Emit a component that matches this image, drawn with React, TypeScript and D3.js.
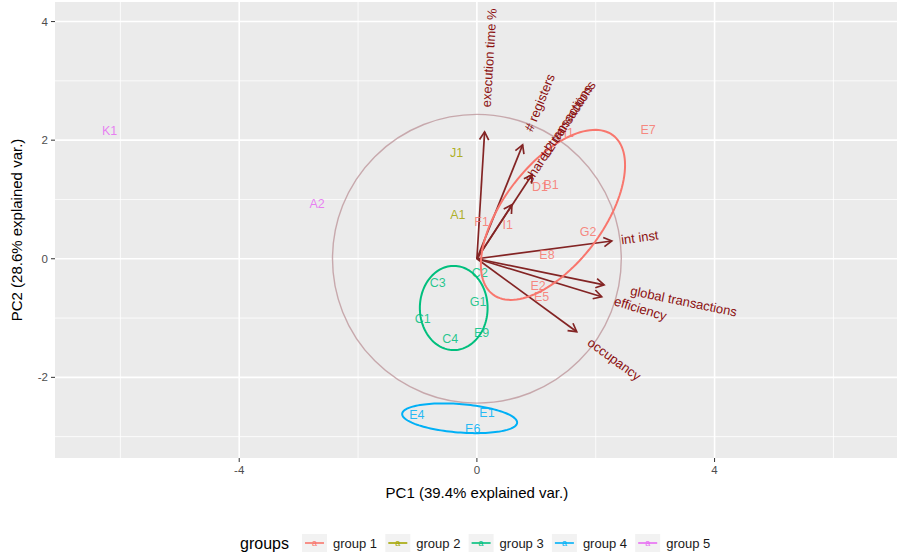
import React, { useRef, useEffect } from 'react';
import * as d3 from 'd3';

// groups and their ggplot hue colours
const groupNames = ['group 1', 'group 2', 'group 3', 'group 4', 'group 5'];
const groupColors = ['#F8766D', '#A3A500', '#00BF7D', '#00B0F6', '#E76BF3'];

// observation scores (PC1, PC2) and their group index
const obsLabels = ['E7', 'H1', 'D1', 'B1', 'F1', 'I1', 'G2', 'E8', 'E2', 'E5',
  'J1', 'A1',
  'C2', 'C3', 'G1', 'C1', 'C4', 'E9',
  'E4', 'E1', 'E6',
  'K1', 'A2'];
const obsPC1 = [2.88, 1.50, 1.06, 1.25, 0.08, 0.52, 1.87, 1.18, 1.03, 1.09,
  -0.34, -0.32,
  0.05, -0.66, 0.02, -0.91, -0.45, 0.08,
  -1.01, 0.17, -0.07,
  -6.18, -2.69];
const obsPC2 = [2.18, 2.12, 1.21, 1.25, 0.62, 0.57, 0.46, 0.07, -0.45, -0.64,
  1.79, 0.74,
  -0.24, -0.40, -0.73, -1.01, -1.35, -1.25,
  -2.63, -2.60, -2.87,
  2.16, 0.93];
const obsGroup = [0, 0, 0, 0, 0, 0, 0, 0, 0, 0,
  1, 1,
  2, 2, 2, 2, 2, 2,
  3, 3, 3,
  4, 4];

// variable loadings (arrows)
const varNames = ['execution time %', '# registers', 'L2 transactions', 'shared transactions',
  'int inst', 'global transactions', 'efficiency', 'occupancy'];
const varPC1 = [0.13, 0.77, 0.93, 0.59, 2.27, 2.14, 2.10, 1.68];
const varPC2 = [2.14, 1.92, 1.42, 0.91, 0.30, -0.44, -0.64, -1.23];

// normal ellipses per group: centre, semi axes, rotation (deg)
const ellGroup = [0, 2, 3];
const ellCX = [1.28, -0.39, -0.29];
const ellCY = [0.74, -0.83, -2.69];
const ellRX = [1.68, 0.57, 0.97];
const ellRY = [0.84, 0.71, 0.24];
const ellAngle = [53, 0, -4.5];

const circleRadius = 2.43;

const xMajor = [-4, 0, 4];
const xMinor = [-6, -2, 2, 6];
const yMajor = [-2, 0, 2, 4];
const yMinor = [-3, -1, 1, 3];

const FONT = '"Liberation Sans", Arial, Helvetica, sans-serif';

const App = () => {
  const svgRef = useRef(null);

  useEffect(() => {
    if (!svgRef.current) return;
    const W = 903;
    const H = 557;
    const panel = { left: 55, right: 897, top: 2, bottom: 458 };

    d3.select(svgRef.current).selectAll('*').remove();
    const svg = d3.select(svgRef.current)
      .attr('width', W)
      .attr('height', H)
      .style('font-family', FONT);

    const x = d3.scaleLinear().domain([-7.1, 7.07]).range([panel.left, panel.right]);
    const y = d3.scaleLinear().domain([-3.36, 4.33]).range([panel.bottom, panel.top]);

    // panel background
    svg.append('rect')
      .attr('x', panel.left).attr('y', panel.top)
      .attr('width', panel.right - panel.left)
      .attr('height', panel.bottom - panel.top)
      .attr('fill', '#EBEBEB');

    // grid
    const grid = svg.append('g');
    xMinor.forEach(v => grid.append('line')
      .attr('x1', x(v)).attr('x2', x(v)).attr('y1', panel.top).attr('y2', panel.bottom)
      .attr('stroke', '#fff').attr('stroke-width', 0.8));
    yMinor.forEach(v => grid.append('line')
      .attr('y1', y(v)).attr('y2', y(v)).attr('x1', panel.left).attr('x2', panel.right)
      .attr('stroke', '#fff').attr('stroke-width', 0.8));
    xMajor.forEach(v => grid.append('line')
      .attr('x1', x(v)).attr('x2', x(v)).attr('y1', panel.top).attr('y2', panel.bottom)
      .attr('stroke', '#fff').attr('stroke-width', 1.6));
    yMajor.forEach(v => grid.append('line')
      .attr('y1', y(v)).attr('y2', y(v)).attr('x1', panel.left).attr('x2', panel.right)
      .attr('stroke', '#fff').attr('stroke-width', 1.6));

    // axes ticks + labels
    xMajor.forEach(v => {
      svg.append('line')
        .attr('x1', x(v)).attr('x2', x(v)).attr('y1', panel.bottom).attr('y2', panel.bottom + 4)
        .attr('stroke', '#333').attr('stroke-width', 1);
      svg.append('text')
        .attr('x', x(v)).attr('y', panel.bottom + 16)
        .attr('text-anchor', 'middle')
        .attr('fill', '#4D4D4D').style('font-size', '11.5px')
        .text(v);
    });
    yMajor.forEach(v => {
      svg.append('line')
        .attr('x1', panel.left - 4).attr('x2', panel.left).attr('y1', y(v)).attr('y2', y(v))
        .attr('stroke', '#333').attr('stroke-width', 1);
      svg.append('text')
        .attr('x', panel.left - 7).attr('y', y(v)).attr('dy', '0.35em')
        .attr('text-anchor', 'end')
        .attr('fill', '#4D4D4D').style('font-size', '11.5px')
        .text(v);
    });

    svg.append('text')
      .attr('x', x(0)).attr('y', 498)
      .attr('text-anchor', 'middle')
      .style('font-size', '15px')
      .text('PC1 (39.4% explained var.)');
    svg.append('text')
      .attr('transform', `translate(22,${(panel.top + panel.bottom) / 2}) rotate(-90)`)
      .attr('text-anchor', 'middle')
      .style('font-size', '15px')
      .text('PC2 (28.6% explained var.)');

    const plot = svg.append('g');

    // correlation circle
    plot.append('circle')
      .attr('cx', x(0)).attr('cy', y(0))
      .attr('r', x(circleRadius) - x(0))
      .attr('fill', 'none')
      .attr('stroke', '#B88C92')
      .attr('stroke-opacity', 0.7)
      .attr('stroke-width', 1.4);

    // arrows
    svg.append('defs').append('marker')
      .attr('id', 'arr')
      .attr('viewBox', '-10 -6 12 12')
      .attr('refX', 0).attr('refY', 0)
      .attr('markerWidth', 12).attr('markerHeight', 12)
      .attr('markerUnits', 'userSpaceOnUse')
      .attr('orient', 'auto')
      .append('path')
      .attr('d', 'M-8,-4.6L0,0L-8,4.6')
      .attr('fill', 'none')
      .attr('stroke', '#832424')
      .attr('stroke-width', 1.7);

    varNames.forEach((n, i) => {
      plot.append('line')
        .attr('x1', x(0)).attr('y1', y(0))
        .attr('x2', x(varPC1[i])).attr('y2', y(varPC2[i]))
        .attr('stroke', '#832424')
        .attr('stroke-width', 1.7)
        .attr('marker-end', 'url(#arr)');
    });

    // observation labels
    obsLabels.forEach((lab, i) => {
      plot.append('text')
        .attr('x', x(obsPC1[i])).attr('y', y(obsPC2[i])).attr('dy', '0.35em')
        .attr('text-anchor', 'middle')
        .attr('fill', groupColors[obsGroup[i]])
        .attr('fill-opacity', 0.85)
        .style('font-size', '12.5px')
        .text(lab);
    });

    // ellipses
    const line = d3.line().x(d => x(d[0])).y(d => y(d[1]));
    ellGroup.forEach((g, i) => {
      const th = ellAngle[i] * Math.PI / 180;
      const pts = d3.range(0, 2 * Math.PI + 0.05, 0.05).map(t => [
        ellCX[i] + ellRX[i] * Math.cos(t) * Math.cos(th) - ellRY[i] * Math.sin(t) * Math.sin(th),
        ellCY[i] + ellRX[i] * Math.cos(t) * Math.sin(th) + ellRY[i] * Math.sin(t) * Math.cos(th)
      ]);
      plot.append('path')
        .attr('d', line(pts))
        .attr('fill', 'none')
        .attr('stroke', groupColors[g])
        .attr('stroke-width', 2);
    });

    // variable names
    varNames.forEach((n, i) => {
      const vx = varPC1[i];
      const vy = varPC2[i];
      const angle = Math.atan(vy / vx) * 180 / Math.PI;
      const hjust = (1 - 1.5 * Math.sign(vx)) / 2;
      const t = plot.append('text')
        .attr('transform', `translate(${x(vx)},${y(vy)}) rotate(${-angle})`)
        .attr('dy', '0.35em')
        .attr('fill', '#8B1010')
        .style('font-size', '13px')
        .text(n);
      const w = t.node().getComputedTextLength();
      t.attr('x', -hjust * w);
    });

    // legend
    const legend = svg.append('g').attr('transform', 'translate(240,543)');
    legend.append('text')
      .attr('x', 0).attr('dy', '0.35em')
      .style('font-size', '16px')
      .text('groups');
    groupNames.forEach((g, i) => {
      const kx = 62 + i * 83.3;
      const key = legend.append('g').attr('transform', `translate(${kx},0)`);
      key.append('rect')
        .attr('x', 0).attr('y', -9).attr('width', 25).attr('height', 18)
        .attr('fill', '#F2F2F2');
      key.append('line')
        .attr('x1', 3).attr('x2', 22).attr('y1', 0).attr('y2', 0)
        .attr('stroke', groupColors[i]).attr('stroke-width', 1.6);
      key.append('text')
        .attr('x', 12.5).attr('dy', '0.35em')
        .attr('text-anchor', 'middle')
        .attr('fill', groupColors[i])
        .style('font-size', '9px')
        .text('a');
      legend.append('text')
        .attr('x', kx + 31).attr('dy', '0.35em')
        .style('font-size', '13px')
        .attr('fill', '#1a1a1a')
        .text(g);
    });
  }, []);

  return (
    <div style={{ position: 'absolute', left: 0, top: 0, background: '#fff' }}>
      <svg ref={svgRef} style={{ display: 'block' }} />
    </div>
  );
};

export default App;
